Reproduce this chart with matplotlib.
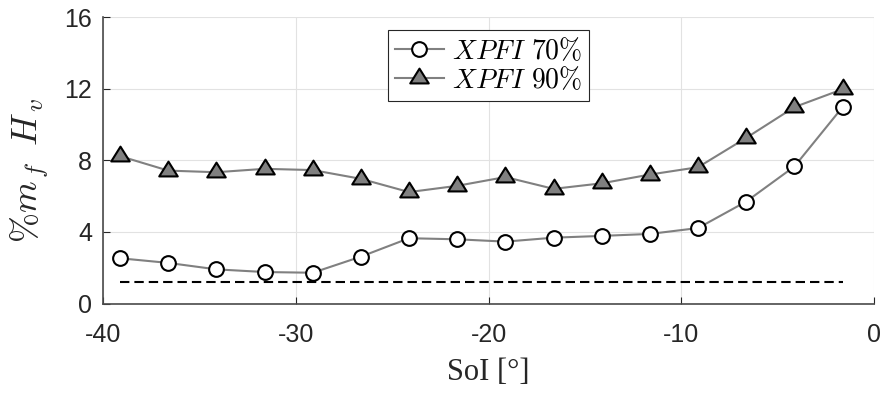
import matplotlib
matplotlib.use('Agg')
import matplotlib.pyplot as plt
from matplotlib.path import Path
from matplotlib.markers import MarkerStyle

# ---- data ----
soi = [-39.13, -36.63, -34.13, -31.63, -29.13, -26.63, -24.13, -21.63,
       -19.13, -16.63, -14.13, -11.63, -9.13, -6.63, -4.13, -1.63]
xpfi70 = [2.53, 2.27, 1.91, 1.76, 1.72, 2.62, 3.65, 3.59,
          3.46, 3.68, 3.78, 3.89, 4.22, 5.70, 7.66, 10.98]
xpfi90 = [8.24, 7.43, 7.34, 7.53, 7.46, 6.97, 6.23, 6.58,
          7.07, 6.41, 6.72, 7.21, 7.62, 9.26, 10.98, 11.98]
ref_level = 1.22
series_labels = [r'$XPFI\ 70\%$', r'$XPFI\ 90\%$']
xticks = [-40, -30, -20, -10, 0]
yticks = [0, 4, 8, 12, 16]
xlabel = 'SoI [°]'
ylabel = r'$\%m_{\,f}\;\;H_{\,v}$'

plt.rcParams['font.family'] = ['Liberation Sans', 'DejaVu Sans']
plt.rcParams['mathtext.fontset'] = 'cm'
plt.rcParams['axes.unicode_minus'] = False

dark = '#262626'
gray = '#808080'

fig = plt.figure(figsize=(8.89, 3.98), dpi=100)
ax = fig.add_axes([0.1162, 0.2374, 0.8669, 0.7191])

# triangle marker with its anchor at the centroid (MATLAB style)
tri_path = Path([(0, 1.0667), (-1, -0.5333), (1, -0.5333), (0, 1.0667)],
                [Path.MOVETO, Path.LINETO, Path.LINETO, Path.CLOSEPOLY])
tri = MarkerStyle(tri_path, joinstyle='miter')

ax.plot([soi[0], soi[-1]], [ref_level, ref_level], color='black', lw=1.5,
        dashes=(4.5, 2.4), zorder=2)
ax.plot(soi, xpfi70, '-', color=gray, lw=1.5, marker='o', ms=10.6,
        mfc='white', mec='black', mew=1.5, label=series_labels[0], zorder=3)
ax.plot(soi, xpfi90, '-', color=gray, lw=1.5, marker=tri, ms=14.2,
        mfc=gray, mec='black', mew=1.5, label=series_labels[1], zorder=3)

ax.set_xlim(xticks[0], xticks[-1])
ax.set_ylim(yticks[0], yticks[-1])
ax.set_xticks(xticks)
ax.set_yticks(yticks)

ax.grid(True, color='#e2e2e2', lw=0.8)
ax.set_axisbelow(True)
for s in ['top', 'right']:
    ax.spines[s].set_visible(False)
for s in ['left', 'bottom']:
    ax.spines[s].set_color('#4a4a4a')
    ax.spines[s].set_linewidth(1.2)

ax.tick_params(direction='in', length=5, width=0.8, colors=dark, labelsize=18)
ax.tick_params(axis='x', pad=14)
ax.tick_params(axis='y', pad=8)

ax.set_xlabel(xlabel, fontfamily='Liberation Serif', fontsize=22, color=dark)
ax.xaxis.set_label_coords(0.5, -0.19)
ax.set_ylabel(ylabel, fontsize=26, color=dark)
ax.yaxis.set_label_coords(-0.068, 0.465)

leg = ax.legend(loc='upper center', bbox_to_anchor=(0.5, 0.955),
                borderaxespad=0, fontsize=20, fancybox=False,
                edgecolor=dark, framealpha=1, handlelength=1.75,
                handletextpad=0.3, borderpad=0.25, labelspacing=0.04)
leg.get_frame().set_linewidth(0.8)

fig.savefig('out.png', dpi=100)
